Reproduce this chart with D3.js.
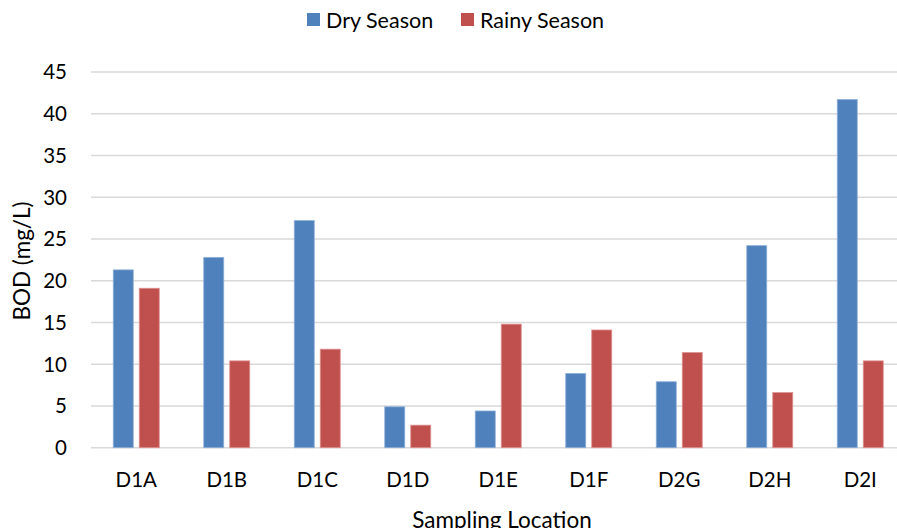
<!DOCTYPE html>
<html>
<head>
<meta charset="utf-8">
<script src="https://cdn.jsdelivr.net/npm/d3@7"></script>
<style>
  html, body { margin: 0; padding: 0; background: #fff; }
  svg { display: block; font-family: Lato, "Open Sans", sans-serif; }
</style>
</head>
<body>
<svg id="chart" width="897" height="528"></svg>
<script>
// BOD by sampling location, dry vs rainy season
const categories = ["D1A", "D1B", "D1C", "D1D", "D1E", "D1F", "D2G", "D2H", "D2I"];
const seriesNames = ["Dry Season", "Rainy Season"];
const dryValues = [21.3, 22.8, 27.2, 4.9, 4.4, 8.9, 7.9, 24.2, 41.7];
const rainyValues = [19.1, 10.4, 11.8, 2.7, 14.8, 14.1, 11.4, 6.6, 10.4];
const yTicks = [0, 5, 10, 15, 20, 25, 30, 35, 40, 45];
const colors = ["#4f81bd", "#c0504d"];
const strokes = ["#8fb0d8", "#dd9290"];

const svg = d3.select("#chart");
const W = 897, H = 528;
const plot = { left: 91, right: 905.5, top: 72, bottom: 447.7 };

const x0 = d3.scaleBand().domain(categories).range([plot.left, plot.right]);
const x1 = d3.scaleBand().domain(seriesNames).range([0, x0.bandwidth()])
  .paddingInner(0.2308).paddingOuter(0.856);
const y = d3.scaleLinear().domain([0, 45]).range([plot.bottom, plot.top]);

// gridlines
svg.append("g")
  .selectAll("line")
  .data(yTicks)
  .join("line")
  .attr("x1", plot.left)
  .attr("x2", W)
  .attr("y1", d => y(d))
  .attr("y2", d => y(d))
  .attr("stroke", "#d9d9d9")
  .attr("stroke-width", 1.5);

// y tick labels
svg.append("g")
  .selectAll("text")
  .data(yTicks)
  .join("text")
  .attr("x", 67)
  .attr("y", d => y(d))
  .attr("dy", "0.36em")
  .attr("text-anchor", "end")
  .attr("font-size", 20.5)
  .attr("fill", "#000")
  .text(d => d);

// bars
const rows = categories.map((c, i) => ({ cat: c, vals: [dryValues[i], rainyValues[i]] }));
const groups = svg.append("g")
  .selectAll("g")
  .data(rows)
  .join("g")
  .attr("transform", d => `translate(${x0(d.cat)},0)`);

groups.selectAll("rect")
  .data(d => d.vals.map((v, k) => ({ name: seriesNames[k], v, k })))
  .join("rect")
  .attr("x", d => x1(d.name))
  .attr("width", x1.bandwidth())
  .attr("y", d => y(d.v))
  .attr("height", d => y(0) - y(d.v))
  .attr("fill", d => colors[d.k])
  .attr("stroke", d => strokes[d.k])
  .attr("stroke-width", 0.8);

// x category labels
svg.append("g")
  .selectAll("text")
  .data(categories)
  .join("text")
  .attr("x", d => x0(d) + x0.bandwidth() / 2)
  .attr("y", 487)
  .attr("text-anchor", "middle")
  .attr("font-size", 20.5)
  .attr("fill", "#000")
  .text(d => d);

// axis titles
svg.append("text")
  .attr("transform", "translate(30,261) rotate(-90)")
  .attr("text-anchor", "middle")
  .attr("font-size", 22.5)
  .attr("fill", "#000")
  .text("BOD (mg/L)");

svg.append("text")
  .attr("x", 502)
  .attr("y", 528)
  .attr("text-anchor", "middle")
  .attr("font-size", 22.5)
  .attr("fill", "#000")
  .text("Sampling Location");

// legend
const legendItems = [
  { name: seriesNames[0], color: colors[0], sx: 307, tx: 326 },
  { name: seriesNames[1], color: colors[1], sx: 461, tx: 480 }
];
const lg = svg.append("g");
lg.selectAll("rect")
  .data(legendItems)
  .join("rect")
  .attr("x", d => d.sx)
  .attr("y", 13)
  .attr("width", 13)
  .attr("height", 13)
  .attr("fill", d => d.color);
lg.selectAll("text")
  .data(legendItems)
  .join("text")
  .attr("x", d => d.tx)
  .attr("y", 20)
  .attr("dy", "0.36em")
  .attr("font-size", 21.5)
  .attr("fill", "#000")
  .text(d => d.name);
</script>
</body>
</html>
